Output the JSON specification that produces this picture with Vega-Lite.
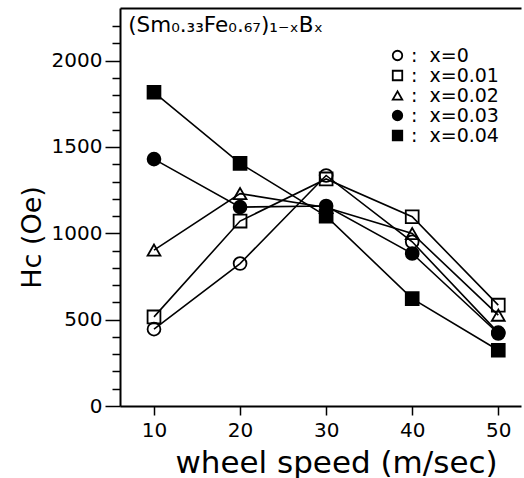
{
  "$schema": "https://vega.github.io/schema/vega-lite/v6.json",
  "width": 401,
  "height": 398,
  "autosize": {"type": "none"},
  "padding": {"left": 120, "top": 8, "right": 3, "bottom": 72},
  "background": "white",
  "config": {
    "view": {"stroke": null},
    "font": "DejaVu Sans",
    "axis": {
      "labelFont": "DejaVu Sans",
      "labelFontSize": 20,
      "labelColor": "black",
      "tickColor": "black",
      "domainColor": "black",
      "domainWidth": 2,
      "tickWidth": 1.5,
      "grid": false,
      "titleFont": "DejaVu Sans",
      "titleFontWeight": "normal",
      "titleColor": "black",
      "titleFontSize": 27
    },
    "legend": {
      "labelFont": "DejaVu Sans",
      "labelFontSize": 19,
      "labelColor": "black"
    }
  },
  "data": {
    "values": [
      {"series": "x=0", "speed": 10, "hc": 445},
      {"series": "x=0", "speed": 20, "hc": 825},
      {"series": "x=0", "speed": 30, "hc": 1335},
      {"series": "x=0", "speed": 40, "hc": 951},
      {"series": "x=0", "speed": 50, "hc": 425},
      {"series": "x=0.01", "speed": 10, "hc": 516},
      {"series": "x=0.01", "speed": 20, "hc": 1071},
      {"series": "x=0.01", "speed": 30, "hc": 1315},
      {"series": "x=0.01", "speed": 40, "hc": 1096},
      {"series": "x=0.01", "speed": 50, "hc": 584},
      {"series": "x=0.02", "speed": 10, "hc": 903},
      {"series": "x=0.02", "speed": 20, "hc": 1230},
      {"series": "x=0.02", "speed": 30, "hc": 1150},
      {"series": "x=0.02", "speed": 40, "hc": 999},
      {"series": "x=0.02", "speed": 50, "hc": 526},
      {"series": "x=0.03", "speed": 10, "hc": 1430},
      {"series": "x=0.03", "speed": 20, "hc": 1152},
      {"series": "x=0.03", "speed": 30, "hc": 1158},
      {"series": "x=0.03", "speed": 40, "hc": 883},
      {"series": "x=0.03", "speed": 50, "hc": 420},
      {"series": "x=0.04", "speed": 10, "hc": 1817},
      {"series": "x=0.04", "speed": 20, "hc": 1405},
      {"series": "x=0.04", "speed": 30, "hc": 1100},
      {"series": "x=0.04", "speed": 40, "hc": 622},
      {"series": "x=0.04", "speed": 50, "hc": 323}
    ]
  },
  "layer": [
    {
      "mark": {"type": "line", "color": "black", "strokeWidth": 1.6},
      "encoding": {
        "x": {
          "field": "speed", "type": "quantitative",
          "scale": {"domain": [6.05, 52.64], "nice": false, "zero": false},
          "axis": {
            "orient": "bottom",
            "values": [10, 20, 30, 40, 50],
            "tickSize": 9,
            "labelPadding": 5,
            "title": "wheel speed (m/sec)",
            "titleFontSize": 31,
            "titleX": 216,
            "titleY": 66,
            "titleAlign": "center",
            "titleBaseline": "alphabetic"
          }
        },
        "y": {
          "field": "hc", "type": "quantitative",
          "scale": {"domain": [0, 2305], "nice": false},
          "axis": {
            "orient": "left",
            "values": [100, 200, 300, 400, 600, 700, 800, 900, 1100, 1200, 1300, 1400, 1600, 1700, 1800, 1900, 2100, 2200],
            "tickSize": 8,
            "labels": false,
            "title": null,
            "domain": true
          }
        },
        "detail": {"field": "series"}
      }
    },
    {
      "mark": {"type": "point", "strokeWidth": 1.8, "opacity": 1, "size": 165},
      "encoding": {
        "x": {
          "field": "speed", "type": "quantitative",
          "scale": {"domain": [6.05, 52.64], "nice": false, "zero": false},
          "axis": {"orient": "top", "labels": false, "ticks": false, "title": null, "domain": true}
        },
        "y": {
          "field": "hc", "type": "quantitative",
          "scale": {"domain": [0, 2305], "nice": false},
          "axis": {
            "orient": "left",
            "values": [0, 500, 1000, 1500, 2000],
            "format": "d",
            "tickSize": 15,
            "labelPadding": 3,
            "domain": false,
            "title": "Hc (Oe)",
            "titleAngle": 270,
            "titleX": -88,
            "titleY": 229,
            "titleAlign": "center",
            "titleBaseline": "middle"
          }
        },
        "shape": {
          "field": "series", "type": "nominal",
          "scale": {"domain": ["x=0", "x=0.01", "x=0.02", "x=0.03", "x=0.04"], "range": ["circle", "square", "triangle-up", "circle", "square"]},
          "legend": {
            "title": null,
            "orient": "none",
            "legendX": 268,
            "legendY": 38,
            "padding": 0,
            "symbolSize": 90,
            "symbolStrokeWidth": 1.8,
            "labelOffset": 4,
            "rowPadding": -1,
            "labelExpr": "':\u00a0\u00a0' + datum.label"
          }
        },
        "fill": {
          "field": "series", "type": "nominal",
          "scale": {"domain": ["x=0", "x=0.01", "x=0.02", "x=0.03", "x=0.04"], "range": ["transparent", "transparent", "transparent", "black", "black"]},
          "legend": {
            "title": null,
            "orient": "none",
            "legendX": 268,
            "legendY": 38,
            "padding": 0,
            "symbolSize": 90,
            "symbolStrokeWidth": 1.8,
            "labelOffset": 4,
            "rowPadding": -1,
            "labelExpr": "':\u00a0\u00a0' + datum.label"
          }
        },
        "stroke": {
          "field": "series", "type": "nominal",
          "scale": {"domain": ["x=0", "x=0.01", "x=0.02", "x=0.03", "x=0.04"], "range": ["black", "black", "black", "black", "black"]},
          "legend": {
            "title": null,
            "orient": "none",
            "legendX": 268,
            "legendY": 38,
            "padding": 0,
            "symbolSize": 90,
            "symbolStrokeWidth": 1.8,
            "labelOffset": 4,
            "rowPadding": -1,
            "labelExpr": "':\u00a0\u00a0' + datum.label"
          }
        }
      }
    },
    {
      "data": {"values": [{"label": "(Sm₀.₃₃Fe₀.₆₇)₁₋ₓBₓ"}]},
      "mark": {"type": "text", "align": "left", "baseline": "alphabetic", "font": "DejaVu Sans", "fontSize": 21.5, "color": "black"},
      "encoding": {
        "x": {"datum": 7.0, "type": "quantitative", "scale": {"domain": [6.05, 52.64], "nice": false, "zero": false}, "axis": null},
        "y": {"datum": 2166, "type": "quantitative", "scale": {"domain": [0, 2305], "nice": false}, "axis": null},
        "text": {"field": "label"}
      }
    }
  ],
  "resolve": {"axis": {"x": "independent", "y": "independent"}}
}
